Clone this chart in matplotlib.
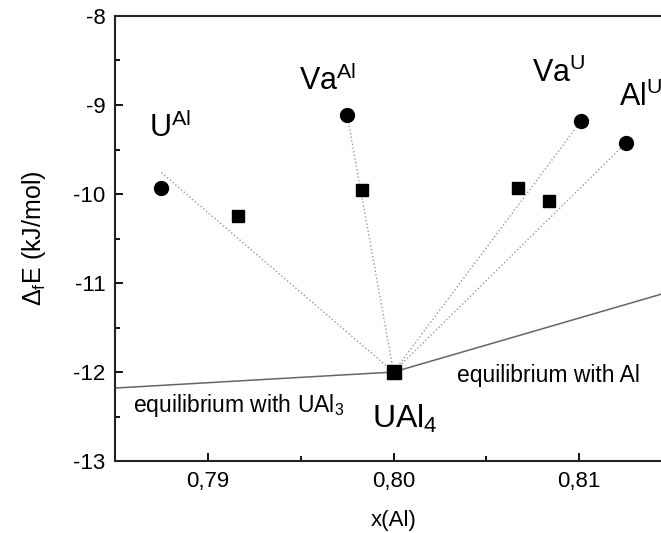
import numpy as np
import matplotlib
matplotlib.use("Agg")
import matplotlib.pyplot as plt
from matplotlib.ticker import MultipleLocator, FixedLocator, FixedFormatter

plt.rcParams['font.family'] = ['Liberation Sans', 'DejaVu Sans']
plt.rcParams['mathtext.default'] = 'regular'
plt.rcParams['axes.unicode_minus'] = False

# defect end points (circles) and intermediate points (squares)
labels = ['U$^{Al}$', 'Va$^{Al}$', 'Va$^{U}$', 'Al$^{U}$']
circ_x = [0.7875, 0.7975, 0.8101, 0.8125]
circ_y = [-9.93, -9.11, -9.18, -9.43]
sq_x = [0.7916, 0.7983, 0.8067, 0.8084]
sq_y = [-10.25, -9.96, -9.93, -10.08]
# start of dotted guide lines
line_x = [0.7875, 0.7975, 0.8101, 0.8125]
line_y = [-9.76, -9.11, -9.18, -9.43]
label_x = [0.78685, 0.79493, 0.80744, 0.81213]
label_y = [-9.36, -8.83, -8.74, -9.01]

ual4_x, ual4_y = 0.80, -12.0
# convex hull line
hull_x = [0.785, 0.80, 0.815]
hull_y = [-12.18, -12.0, -11.09]

xticks = [0.79, 0.80, 0.81]
xtick_labels = ['0,79', '0,80', '0,81']
yticks = [-13, -12, -11, -10, -9, -8]

fig = plt.figure(figsize=(6.61, 5.33), dpi=100)
ax = fig.add_axes([0.174, 0.135, 0.8427, 0.835])

ax.plot(hull_x, hull_y, color='#666666', lw=1.1, zorder=2)

for i in range(4):
    ax.plot([line_x[i], ual4_x], [line_y[i], ual4_y], ls=':', color='#999999', lw=1.0, zorder=2)
    ax.text(label_x[i], label_y[i], labels[i], fontsize=22, ha='left', va='baseline')

ax.plot(circ_x, circ_y, 'o', color='black', ms=10, zorder=3, ls='none')
ax.plot(sq_x, sq_y, 's', color='black', ms=9, zorder=3, ls='none')
ax.plot([ual4_x], [ual4_y], 's', color='black', ms=10, zorder=3)

ax.text(0.80062, -12.63, 'UAl$_4$', fontsize=23, ha='center', va='baseline')
ax.text(0.78597, -12.45, 'equilibrium with UAl$_3$', fontsize=16.5, ha='left', va='baseline')
ax.text(0.8034, -12.11, 'equilibrium with Al', fontsize=16.5, ha='left', va='baseline')

ax.set_xlim(0.785, 0.815)
ax.set_ylim(-13, -8)
ax.xaxis.set_major_locator(FixedLocator(xticks))
ax.xaxis.set_major_formatter(FixedFormatter(xtick_labels))
ax.xaxis.set_minor_locator(MultipleLocator(0.005))
ax.set_yticks(yticks)
ax.yaxis.set_minor_locator(MultipleLocator(0.5))
ax.tick_params(which='both', direction='in', top=False, right=False, labelsize=16, width=1.3)
ax.tick_params(which='major', length=6, pad=7)
ax.tick_params(which='minor', length=3.5)
for s in ax.spines.values():
    s.set_linewidth(1.5)
    s.set_color('#222222')

ax.set_xlabel('x(Al)', fontsize=16, labelpad=13)
ax.set_ylabel(r'$\Delta_f$E (kJ/mol)', fontsize=18, labelpad=18)

fig.savefig('out.png', dpi=100)
